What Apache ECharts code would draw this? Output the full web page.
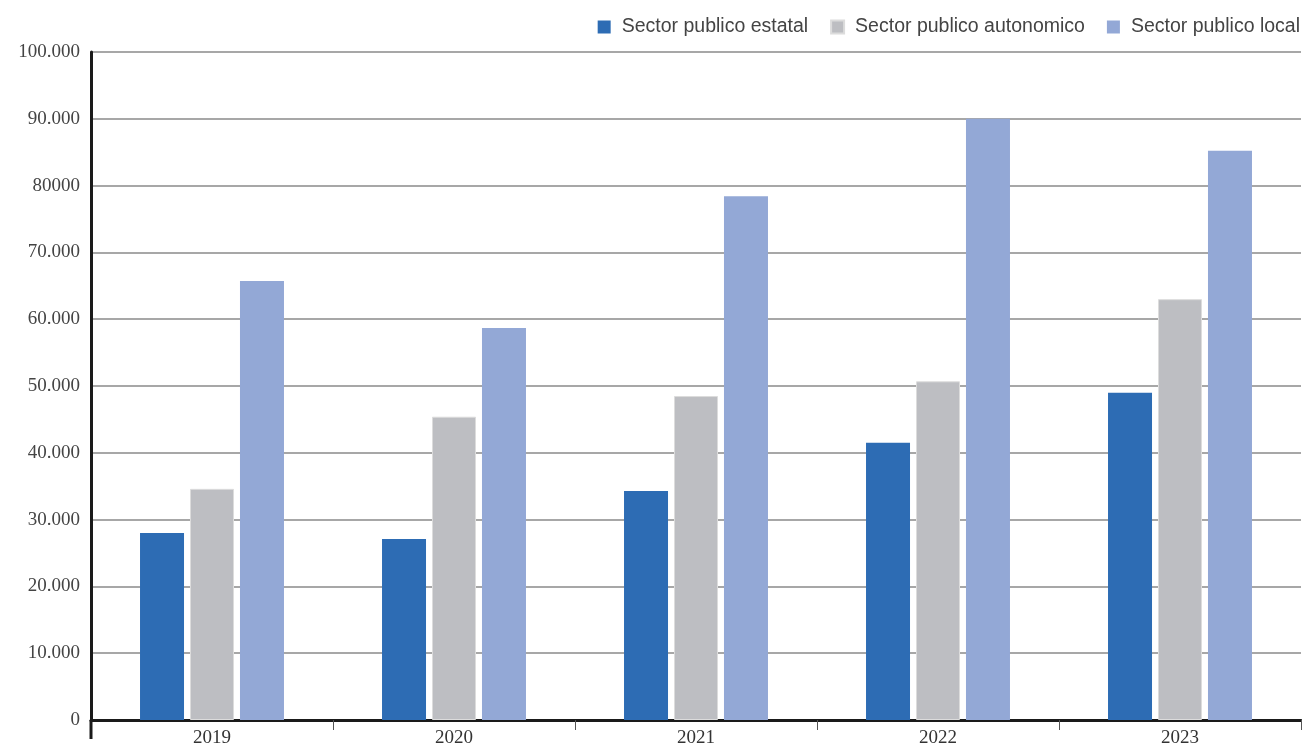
<!DOCTYPE html>
<html>
<head>
<meta charset="utf-8">
<script src="https://cdn.jsdelivr.net/npm/echarts@6/dist/echarts.min.js"></script>
<style>
  html, body { margin: 0; padding: 0; background: #ffffff; }
  #chart { width: 1302px; height: 744px; }
</style>
</head>
<body>
<div id="chart"></div>
<script>
// Años y series (en unidades)
const years = ['2019', '2020', '2021', '2022', '2023'];
const estatal = [28000, 27100, 34300, 41500, 49000];
const autonomico = [34600, 45400, 48500, 50700, 63000];
const local = [65700, 58700, 78400, 90000, 85200];
const seriesNames = ['Sector publico estatal', 'Sector publico autonomico', 'Sector publico local'];
// Etiquetas del eje vertical, tal como se imprimen
const yTickLabels = ['0', '10.000', '20.000', '30.000', '40.000', '50.000', '60.000', '70.000', '80000', '90.000', '100.000'];

const chart = echarts.init(document.getElementById('chart'));

const serif = '"Liberation Serif", "Times New Roman", serif';
const sans = '"Liberation Sans", Arial, sans-serif';

const option = {
  animation: false,
  backgroundColor: '#ffffff',
  legend: {
    top: 12,
    right: -3,
    itemWidth: 13,
    itemHeight: 13,
    itemGap: 22,
    icon: 'rect',
    textStyle: { fontFamily: sans, fontSize: 19.5, color: '#444444', padding: [0, 0, 0, 6] },
    data: seriesNames
  },
  grid: { left: 91, right: 1, top: 52, bottom: 24, containLabel: false, outerBoundsMode: 'none' },
  xAxis: {
    type: 'category',
    data: years,
    axisLine: { show: true, lineStyle: { color: '#1a1a1a', width: 3 } },
    axisTick: { show: true, alignWithLabel: false, length: 10, lineStyle: { color: '#555555', width: 1 } },
    axisLabel: { fontFamily: serif, fontSize: 19, color: '#333333', margin: 9 }
  },
  yAxis: {
    type: 'value',
    min: 0,
    max: 100000,
    interval: 10000,
    axisLine: { show: true, lineStyle: { color: '#1a1a1a', width: 3 } },
    axisTick: { show: false },
    splitLine: { show: true, lineStyle: { color: '#8a8a8a', width: 1.5 } },
    axisLabel: {
      fontFamily: serif, fontSize: 19, color: '#444444', margin: 11,
      formatter: function (v) { return yTickLabels[Math.round(v / 10000)]; }
    }
  },
  series: [
    {
      name: seriesNames[0], type: 'bar', data: estatal,
      barWidth: 44, barGap: '13.6%',
      itemStyle: { color: '#2d6cb4' }
    },
    {
      name: seriesNames[1], type: 'bar', data: autonomico,
      barWidth: 44, barGap: '13.6%',
      itemStyle: { color: '#bdbec2', borderColor: '#dcdcdc', borderWidth: 1 }
    },
    {
      name: seriesNames[2], type: 'bar', data: local,
      barWidth: 44, barGap: '13.6%',
      itemStyle: { color: '#93a8d6' }
    }
  ]
};

chart.setOption(option);

// Prolonga el eje vertical por debajo del eje de categorías
const origin = chart.convertToPixel({ xAxisIndex: 0, yAxisIndex: 0 }, [0, 0]);
const axisX = chart.getModel().getComponent('grid').coordinateSystem.getRect().x;
chart.setOption({
  graphic: [{
    type: 'line',
    shape: { x1: axisX, y1: origin[1], x2: axisX, y2: origin[1] + 19 },
    style: { stroke: '#1a1a1a', lineWidth: 3 },
    z: 10
  }]
});
</script>
</body>
</html>
